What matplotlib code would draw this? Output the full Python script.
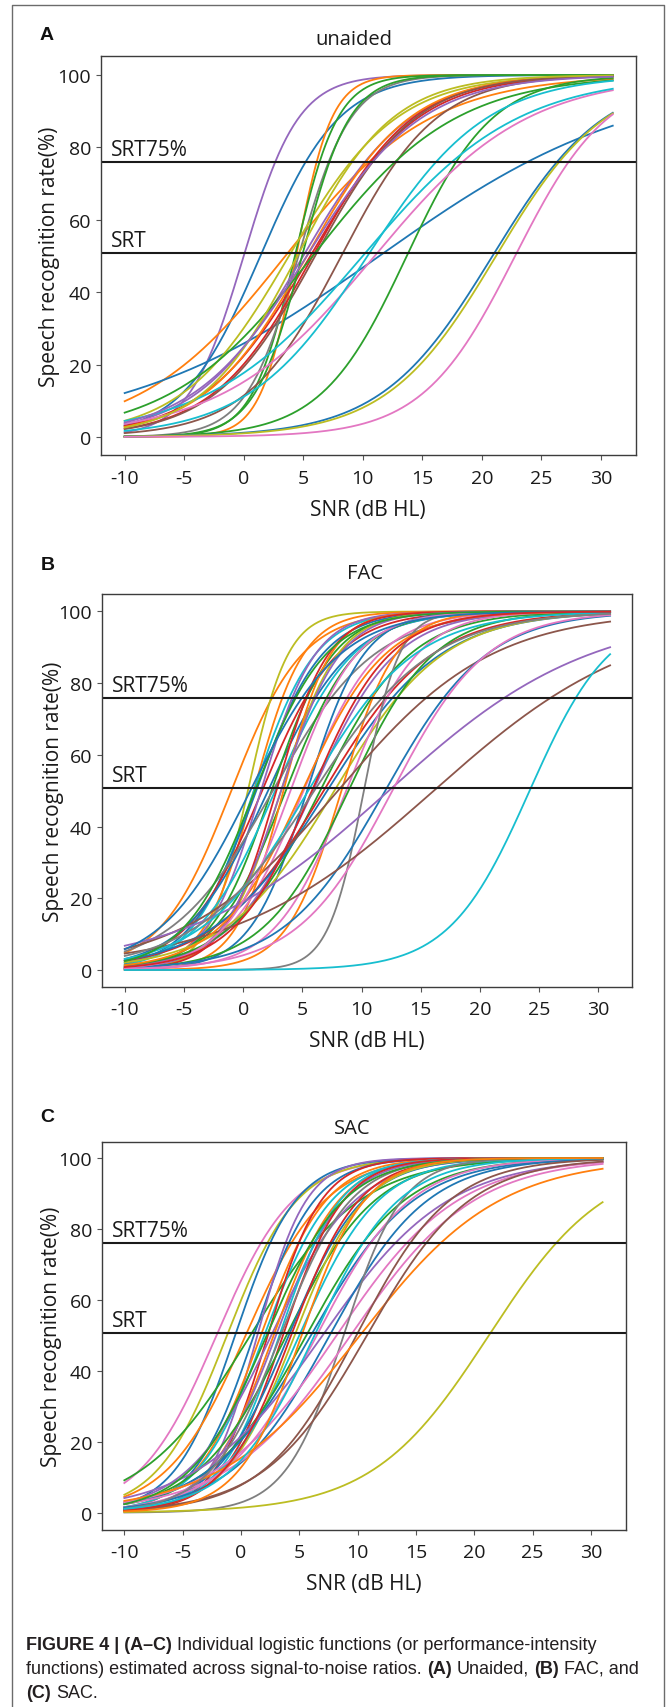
import numpy as np
import matplotlib
matplotlib.use("Agg")
import matplotlib.pyplot as plt
from matplotlib.lines import Line2D
from matplotlib.transforms import blended_transform_factory

# ---------------- data ----------------
# each curve: logistic function, midpoint (SRT, dB) and spread (dB)
a_mid = [0.0, 1.4, 3.5, 11.4, 4.4, 4.3, 4.6, 3.8, 5.0, 5.6, 5.8, 5.3, 8.2, 6.0, 5.8,
         13.7, 4.9, 11.0, 10.4, 10.0, 20.9, 21.2, 22.8, 4.5, 5.3]
a_spr = [2.3, 3.3, 6.1, 10.8, 1.5, 1.8, 2.2, 4.5, 4.5, 4.5, 4.2, 4.3, 4.0, 4.2, 6.0,
         3.6, 2.0, 6.4, 5.0, 6.5, 4.7, 4.6, 3.9, 4.0, 4.8]
a_col = ["purple", "blue", "orange", "blue", "orange", "green", "gray", "olive", "purple",
         "red", "red", "orange", "brown", "brown", "green", "green", "green", "pink",
         "cyan", "cyan", "blue", "olive", "pink", "olive", "purple"]

b_mid = [-1.0, 0.4, 0.9, 0.9, 1.1, 1.6, 1.5, 2.1, 2.4, 2.7, 2.5, 3.2, 3.6, 3.4, 2.8,
         3.2, 5.1, 5.4, 5.9, 6.5, 6.8, 7.1, 7.7, 8.3, 8.7, 8.9, 10.2, 8.0, 12.0, 12.3,
         12.6, 16.1, 24.2, 5.0, 5.5, 4.0, 1.0, 0.6, 5.8, 6.0]
b_spr = [3.0, 1.7, 2.1, 2.6, 2.8, 3.2, 2.3, 3.5, 2.6, 3.3, 4.3, 2.4, 3.0, 2.0, 2.2,
         2.5, 3.2, 2.4, 3.5, 3.8, 4.6, 4.8, 4.6, 2.3, 3.0, 3.6, 1.5, 6.5, 4.3, 8.5,
         4.0, 8.6, 3.4, 3.5, 4.5, 2.8, 3.0, 3.8, 3.3, 5.0]
b_col = ["orange", "olive", "orange", "cyan", "blue", "red", "purple", "blue", "green",
         "cyan", "gray", "olive", "green", "orange", "red", "purple", "pink", "blue",
         "purple", "green", "red", "blue", "olive", "orange", "pink", "green", "gray",
         "brown", "blue", "purple", "pink", "brown", "cyan", "orange", "cyan", "pink",
         "green", "blue", "red", "gray"]

c_mid = [-2.1, -1.2, -0.5, 0.4, 0.8, 1.1, 1.4, 1.7, 2.0, 2.3, 2.6, 2.8, 3.0, 3.3, 3.6,
         3.9, 4.1, 4.6, 5.0, 5.6, 6.0, 6.5, 7.0, 7.6, 8.2, 8.8, 9.4, 9.9, 10.2, 10.8,
         21.25, 4.3, 3.4, 2.2, 6.3, 5.2]
c_spr = [3.3, 3.0, 2.6, 3.4, 4.7, 2.6, 2.1, 2.8, 2.9, 2.3, 3.6, 2.8, 2.9, 2.6, 2.6,
         3.8, 3.2, 3.0, 3.4, 4.2, 4.4, 4.0, 5.4, 4.2, 5.2, 2.5, 5.3, 4.0, 6.0, 4.4,
         5.0, 2.9, 3.0, 3.3, 3.6, 2.7]
c_col = ["pink", "olive", "blue", "orange", "green", "blue", "purple", "orange", "cyan",
         "red", "purple", "orange", "purple", "cyan", "red", "green", "blue", "olive",
         "cyan", "green", "blue", "pink", "purple", "blue", "pink", "gray", "pink",
         "brown", "orange", "brown", "olive", "red", "gray", "green", "cyan", "orange"]

srt_levels = [76.0, 50.7]
srt_labels = ["SRT75%", "SRT"]
x_ticks = [-10, -5, 0, 5, 10, 15, 20, 25, 30]
y_ticks = [0, 20, 40, 60, 80, 100]
titles = ["unaided", "FAC", "SAC"]
letters = ["A", "B", "C"]
x_from, x_to = -10, 31

# ---------------- style ----------------
tab = {"blue": "#1f77b4", "orange": "#ff7f0e", "green": "#2ca02c", "red": "#d62728",
       "purple": "#9467bd", "brown": "#8c564b", "pink": "#e377c2", "gray": "#7f7f7f",
       "olive": "#bcbd22", "cyan": "#17becf"}
MAIN = ["Open Sans", "DejaVu Sans"]
CAP = ["Liberation Sans Narrow", "Liberation Sans", "DejaVu Sans"]
plt.rcParams["font.family"] = MAIN
plt.rcParams["axes.unicode_minus"] = False

W, H = 667, 1708
fig = plt.figure(figsize=(W / 100, H / 100), dpi=100)


def fx(x):
    return x / W


def fy(y):
    return 1 - y / H


# outer frame
fig.add_artist(Line2D([fx(12.3), fx(12.3), fx(664.3), fx(664.3)],
                      [fy(1708), fy(6.3), fy(6.3), fy(1708)],
                      transform=fig.transFigure, color="#6b6b6b", lw=1.0))

panels = [
    dict(box=(100.5, 57.4, 635.6, 456.4), xlim=(-12.03, 32.92), ylim=(-5.11, 105.14),
         title_xy=(354, 40), letter_xy=(40, 35), xl_y=510.7, yl_x=50,
         mid=a_mid, spr=a_spr, col=a_col),
    dict(box=(101.7, 594.7, 632.0, 988.0), xlim=(-11.95, 32.85), ylim=(-4.74, 104.96),
         title_xy=(365, 573.6), letter_xy=(40.7, 565), xl_y=1042, yl_x=53,
         mid=b_mid, spr=b_spr, col=b_col),
    dict(box=(101.7, 1142.7, 625.7, 1530.7), xlim=(-11.94, 32.98), ylim=(-4.8, 104.6),
         title_xy=(352, 1129), letter_xy=(40.5, 1118), xl_y=1585, yl_x=51,
         mid=c_mid, spr=c_spr, col=c_col),
]

xs = np.linspace(x_from, x_to, 400)
for i, p in enumerate(panels):
    l, t, r, b = p["box"]
    ax = fig.add_axes([fx(l), fy(b), (r - l) / W, (b - t) / H])
    for m, s, c in zip(p["mid"], p["spr"], p["col"]):
        ax.plot(xs, 100.0 / (1.0 + np.exp(-(xs - m) / s)), color=tab[c], lw=1.3)
    trans = blended_transform_factory(ax.transAxes, ax.transData)
    for lev, lab in zip(srt_levels, srt_labels):
        ax.axhline(lev, color="#1a1a1a", lw=1.5)
        ax.annotate(lab, xy=(0, lev), xycoords=trans, xytext=(7.5, 5),
                    textcoords="offset points", fontsize=15, va="baseline", ha="left",
                    color="#1a1a1a")
    ax.set_xlim(*p["xlim"])
    ax.set_ylim(*p["ylim"])
    ax.set_xticks(x_ticks)
    ax.set_yticks(y_ticks)
    ax.tick_params(direction="out", length=3.6, width=0.8, color="#555555",
                   labelsize=14, labelcolor="#1a1a1a")
    ax.tick_params(axis="x", pad=6)
    ax.tick_params(axis="y", pad=3.2)
    for sp in ax.spines.values():
        sp.set_color("#3c3c3c")
        sp.set_linewidth(1.0)
    ax.set_xlabel("SNR (dB HL)", fontsize=15, color="#1a1a1a")
    ax.xaxis.label.set_va("center")
    ax.xaxis.set_label_coords(0.5, -(p["xl_y"] - b) / (b - t))
    ax.set_ylabel("Speech recognition rate(%)", fontsize=15, color="#1a1a1a")
    ax.yaxis.label.set(ha="center", va="center", rotation_mode="default")
    ax.yaxis.set_label_coords((p["yl_x"] - l) / (r - l), 0.5)
    tx, ty = p["title_xy"]
    fig.text(fx(tx), fy(ty), titles[i], fontsize=14.5, ha="center", va="center",
             color="#1a1a1a")
    lx, ly = p["letter_xy"]
    fig.text(fx(lx), fy(ly), letters[i], fontsize=14, fontweight="bold", ha="left",
             va="center", family=["Liberation Sans", "DejaVu Sans"], color="#111111")

# caption with mixed bold runs
renderer = fig.canvas.get_renderer()
cap_size = 13
probe1 = fig.text(0, 0, "a a", fontsize=cap_size, family=CAP)
probe2 = fig.text(0, 0, "aa", fontsize=cap_size, family=CAP)
space_w = probe1.get_window_extent(renderer).width - probe2.get_window_extent(renderer).width
probe1.remove()
probe2.remove()

caption = [
    (1650, [("FIGURE 4 | (A\u2013C)", True), ("Individual logistic functions (or performance-intensity", False)]),
    (1674, [("functions) estimated across signal-to-noise ratios.", False), ("(A)", True),
            ("Unaided,", False), ("(B)", True), ("FAC, and", False)]),
    (1698, [("(C)", True), ("SAC.", False)]),
]
for yb, runs in caption:
    x = 26.4
    for k, (txt, bold) in enumerate(runs):
        if k > 0:
            x += space_w
        tt = fig.text(fx(x), fy(yb), txt, fontsize=cap_size, family=CAP,
                      fontweight="bold" if bold else "normal", ha="left", va="baseline",
                      color="#231f20")
        x += tt.get_window_extent(renderer).width

fig.savefig("out.png", dpi=100, facecolor="white")
